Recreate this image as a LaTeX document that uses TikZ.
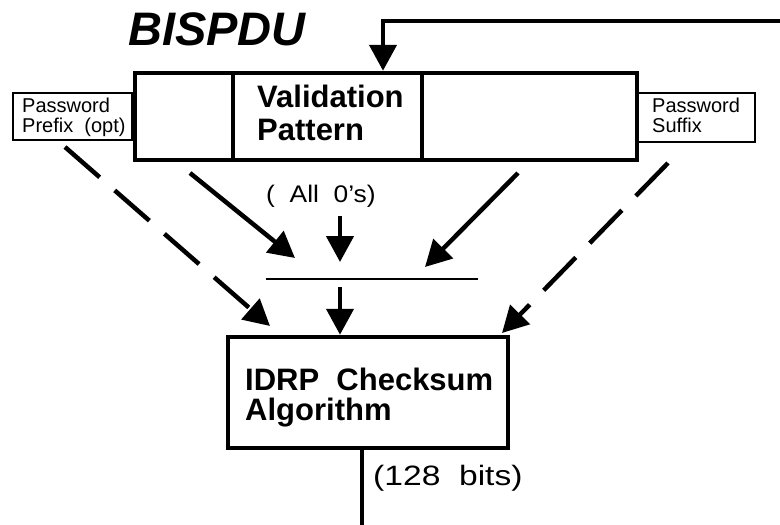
\documentclass[tikz,border=0pt]{standalone}
\usepackage{fontspec}
\setmainfont{Liberation Sans}
\newfontfamily\widesans[FakeStretch=1.2]{Liberation Sans}
\newfontfamily\midsans[FakeStretch=1.1]{Liberation Sans}
\usetikzlibrary{arrows.meta}
\begin{document}
\begin{tikzpicture}[x=1pt,y=-1pt,
  heavybox/.style={draw, line width=4.5pt, inner sep=0pt, line join=miter},
  lightbox/.style={draw, line width=2.5pt, fill=white, inner sep=0pt},
  conn/.style={line width=4.5pt, -{Triangle[length=26pt,width=27pt]}},
  dconn/.style={conn, dash pattern=on 46pt off 20pt},
  lbl/.style={anchor=base west, inner sep=0pt},
  smalltxt/.style={font=\fontsize{20}{20}\selectfont},
  bigtxt/.style={font=\fontsize{31}{31}\selectfont\bfseries},
]
\useasboundingbox (0,0) rectangle (780,525);

% side boxes (drawn first, behind the main box)
\node[lightbox, minimum width=119pt, minimum height=47pt] (prefix) at (72.5,116.5) {};
\node[lightbox, minimum width=117pt, minimum height=49pt] (suffix) at (696.5,117.5) {};
\node[lbl, smalltxt] (prefixA) at (22,112) {Password};
\node[lbl, smalltxt] (prefixB) at (22,132) {Prefix\ \ (opt)};
\node[lbl, smalltxt] (suffixA) at (652,112) {Password};
\node[lbl, smalltxt] (suffixB) at (652,132) {Suffix};

% main PDU box
\node[heavybox, fill=white, minimum width=98pt, minimum height=87pt] (mainL) at (184,116.5) {};
\node[heavybox, fill=white, minimum width=189pt, minimum height=87pt] (mainM) at (327.5,116.5) {};
\node[heavybox, fill=white, minimum width=215pt, minimum height=87pt] (mainR) at (529.5,116.5) {};
\node[lbl, bigtxt] (valA) at (257,107) {Validation};
\node[lbl, bigtxt] (valB) at (257,140) {Pattern};

% title
\node[lbl, font=\fontsize{47}{47}\selectfont\bfseries\itshape] (title) at (128,45) {BISPDU};

% feedback arrow
\coordinate (fbstart) at (780,21);
\coordinate (fbcorner) at (383,21);
\draw[conn] (fbstart) -- (fbcorner) -- (fbcorner |- mainM.north);

% zeros label and combining line
\node[lbl, font=\fontsize{24}{24}\selectfont\midsans] (zeros) at (266,202) {(\ \ All\ \ 0’s)};
\coordinate (hl) at (266,279);
\coordinate (hr) at (478,279);
\draw[line width=1.5pt] (hl) -- (hr);

% checksum box
\node[heavybox, minimum width=280pt, minimum height=111pt] (cbox) at (368,392.5) {};
\node[lbl, bigtxt] (cA) at (245,390) {IDRP\ \ Checksum};
\node[lbl, bigtxt] (cB) at (245,420) {Algorithm};

% solid arrows into the combining line
\coordinate (s1) at (190,173);
\coordinate (t1) at (295,258);
\coordinate (s2) at (518,173);
\coordinate (t2) at (425,267);
\coordinate (s3) at (340,216);
\coordinate (t3) at (340,262);
\draw[conn] (s1) -- (t1);
\draw[conn] (s2) -- (t2);
\draw[conn] (s3) -- (t3);

% arrow from line to checksum
\coordinate (s4) at (340,287);
\draw[conn] (s4) -- (s4 |- cbox.north);

% dashed arrows from password parts
\coordinate (d1) at (65,147);
\coordinate (dt1) at (270,326);
\coordinate (d2) at (668,163);
\coordinate (dt2) at (502,333);
\draw[dconn] (d1) -- (dt1);
\draw[dconn] (d2) -- (dt2);

% output
\coordinate (outend) at (362,525);
\draw[line width=4pt] (cbox.south -| outend) -- (outend);
\node[lbl, font=\fontsize{28}{28}\selectfont\widesans] (bits) at (373,485) {(128\ \ bits)};
\end{tikzpicture}
\end{document}
